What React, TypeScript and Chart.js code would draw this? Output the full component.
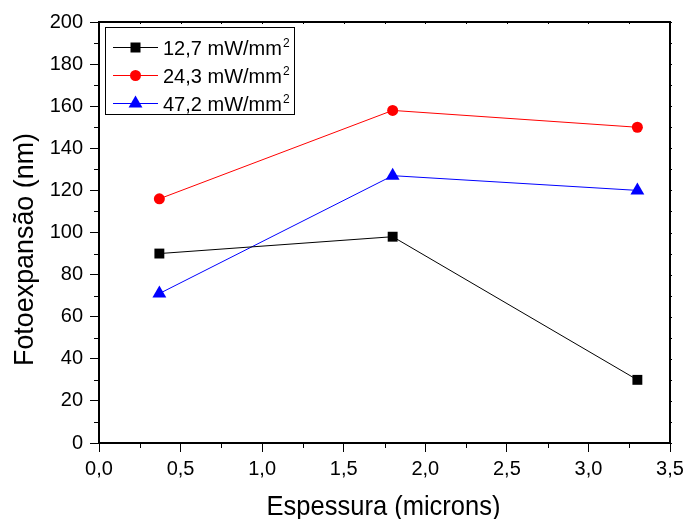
import React, { useEffect, useRef } from "react";
import { Chart, registerables } from "chart.js";

Chart.register(...registerables);

const thickness = [0.37, 1.8, 3.3];
const series127 = [90, 98, 30];
const series243 = [116, 158, 150];
const series472 = [71, 127, 120];
const seriesLabels = ["12,7 mW/mm", "24,3 mW/mm", "47,2 mW/mm"];
const seriesColors = ["#000000", "#ff0000", "#0000ff"];
const seriesMarkers = ["rect", "circle", "triangle"];
const xTitle = "Espessura (microns)";
const yTitle = "Fotoexpansão (nm)";

const FONT = "'Liberation Sans', Arial, sans-serif";

function drawMarker(ctx: CanvasRenderingContext2D, kind: string, x: number, y: number, color: string) {
  ctx.fillStyle = color;
  ctx.beginPath();
  if (kind === "rect") {
    ctx.rect(x - 5, y - 5, 10, 10);
  } else if (kind === "circle") {
    ctx.arc(x, y, 5.5, 0, Math.PI * 2);
  } else {
    const r = 8;
    ctx.moveTo(x, y - r);
    ctx.lineTo(x + r * Math.sin((2 * Math.PI) / 3), y - r * Math.cos((2 * Math.PI) / 3));
    ctx.lineTo(x + r * Math.sin((4 * Math.PI) / 3), y - r * Math.cos((4 * Math.PI) / 3));
    ctx.closePath();
  }
  ctx.fill();
}

function fitText(ctx: CanvasRenderingContext2D, text: string, cx: number, baseline: number, width: number) {
  const w = ctx.measureText(text).width;
  const s = width / w;
  ctx.save();
  ctx.translate(cx, baseline);
  ctx.scale(s, 1);
  ctx.textAlign = "center";
  ctx.textBaseline = "alphabetic";
  ctx.fillText(text, 0, 0);
  ctx.restore();
}

const framePlugin = {
  id: "framePlugin",
  afterDraw(chart: any) {
    const { ctx, chartArea } = chart;
    const { left, right, top, bottom } = chartArea;
    const xs = chart.scales.x;
    const ys = chart.scales.y;
    ctx.save();
    ctx.strokeStyle = "#000";
    ctx.lineWidth = 2;
    ctx.beginPath();
    ctx.moveTo(left - 1, top);
    ctx.lineTo(right, top);
    ctx.lineTo(right, bottom + 1);
    ctx.stroke();

    ctx.lineWidth = 1;
    // x ticks (minor outward at bottom; tiny inward marks at top)
    for (let i = 0; i <= 14; i++) {
      const v = i * 0.25;
      const px = Math.round(xs.getPixelForValue(v)) + 0.5;
      const major = i % 2 === 0;
      ctx.beginPath();
      if (!major) {
        ctx.moveTo(px, bottom);
        ctx.lineTo(px, bottom + 5);
      }
      ctx.moveTo(px, top);
      ctx.lineTo(px, top + 2);
      ctx.stroke();
    }
    // y ticks
    for (let i = 0; i <= 20; i++) {
      const v = i * 10;
      const py = Math.round(ys.getPixelForValue(v)) + 0.5;
      const major = i % 2 === 0;
      ctx.beginPath();
      if (!major) {
        ctx.moveTo(left, py);
        ctx.lineTo(left - 5, py);
      }
      ctx.moveTo(right, py);
      ctx.lineTo(right + 2, py);
      ctx.stroke();
    }

    // axis titles
    ctx.fillStyle = "#000";
    ctx.font = `28px ${FONT}`;
    fitText(ctx, xTitle, (left + right) / 2 - 1, 515, 234);
    ctx.save();
    ctx.translate(33, 249.5);
    ctx.rotate(-Math.PI / 2);
    fitText(ctx, yTitle, 0, 0, 233);
    ctx.restore();

    // legend
    const bx = left + 6;
    const by = top + 5;
    const bw = 189;
    const bh = 87;
    ctx.lineWidth = 1;
    ctx.strokeStyle = "#000";
    ctx.strokeRect(Math.round(bx) + 0.5, Math.round(by) + 0.5, bw, bh);
    const rows = [25, 53, 80.5];
    chart.data.datasets.forEach((ds: any, i: number) => {
      const ry = Math.round(top + rows[i]) + 0.5;
      const lx0 = bx + 8;
      const lx1 = bx + 53;
      ctx.strokeStyle = ds.borderColor;
      ctx.lineWidth = 1;
      ctx.beginPath();
      ctx.moveTo(lx0, ry);
      ctx.lineTo(lx1, ry);
      ctx.stroke();
      drawMarker(ctx, seriesMarkers[i], (lx0 + lx1) / 2, ry, ds.borderColor);
      ctx.fillStyle = "#000";
      ctx.font = `20px ${FONT}`;
      ctx.textBaseline = "alphabetic";
      ctx.textAlign = "left";
      const tx = bx + 58;
      ctx.fillText(ds.label, tx, ry + 7.5);
      const w = ctx.measureText(ds.label).width;
      ctx.font = `12px ${FONT}`;
      ctx.fillText("2", tx + w + 1, ry - 1);
    });
    ctx.restore();
  },
};

export default function App() {
  const canvasRef = useRef<HTMLCanvasElement | null>(null);

  useEffect(() => {
    document.body.style.margin = "0";
    const canvas = canvasRef.current;
    if (!canvas) return;
    const makeDs = (label: string, values: number[], color: string, style: string) => ({
      label,
      data: thickness.map((x, i) => ({ x, y: values[i] })),
      borderColor: color,
      backgroundColor: color,
      borderWidth: 1,
      pointStyle: style,
      pointRadius: style === "rect" ? 7 : style === "circle" ? 5.5 : 8,
      pointBorderWidth: 0,
      pointBackgroundColor: color,
      tension: 0,
    });
    const chart = new Chart(canvas, {
      type: "line",
      data: {
        datasets: [
          makeDs(seriesLabels[0], series127, seriesColors[0], seriesMarkers[0]),
          makeDs(seriesLabels[1], series243, seriesColors[1], seriesMarkers[1]),
          makeDs(seriesLabels[2], series472, seriesColors[2], seriesMarkers[2]),
        ],
      },
      options: {
        responsive: false,
        animation: false,
        devicePixelRatio: 1,
        layout: { padding: { left: 0, right: 16, top: 22, bottom: 0 } },
        plugins: { legend: { display: false }, tooltip: { enabled: false } },
        scales: {
          x: {
            type: "linear",
            min: 0,
            max: 3.5,
            ticks: {
              stepSize: 0.5,
              color: "#000",
              font: { family: FONT, size: 20 },
              padding: 5,
              maxRotation: 0,
              callback: (v: any) => Number(v).toFixed(1).replace(".", ","),
            },
            grid: { display: true, drawOnChartArea: false, drawTicks: true, tickLength: 9, color: "#000", lineWidth: 1 },
            border: { display: true, color: "#000", width: 2 },
            title: { display: false },
            afterFit: (s: any) => {
              s.height = 76;
              s.paddingLeft = 0;
              s.paddingRight = 0;
            },
          },
          y: {
            type: "linear",
            min: 0,
            max: 200,
            ticks: {
              stepSize: 20,
              color: "#000",
              font: { family: FONT, size: 20 },
              padding: 7,
            },
            grid: { display: true, drawOnChartArea: false, drawTicks: true, tickLength: 9, color: "#000", lineWidth: 1 },
            border: { display: true, color: "#000", width: 2 },
            title: { display: false },
            afterFit: (s: any) => {
              s.width = 99;
              s.paddingTop = 0;
              s.paddingBottom = 0;
            },
          },
        },
      },
      plugins: [framePlugin],
    } as any);
    return () => chart.destroy();
  }, []);

  return (
    <div style={{ position: "absolute", left: 0, top: 0, width: 686, height: 519, background: "#fff" }}>
      <canvas ref={canvasRef} width={686} height={519} style={{ display: "block", width: 686, height: 519 }} />
    </div>
  );
}
